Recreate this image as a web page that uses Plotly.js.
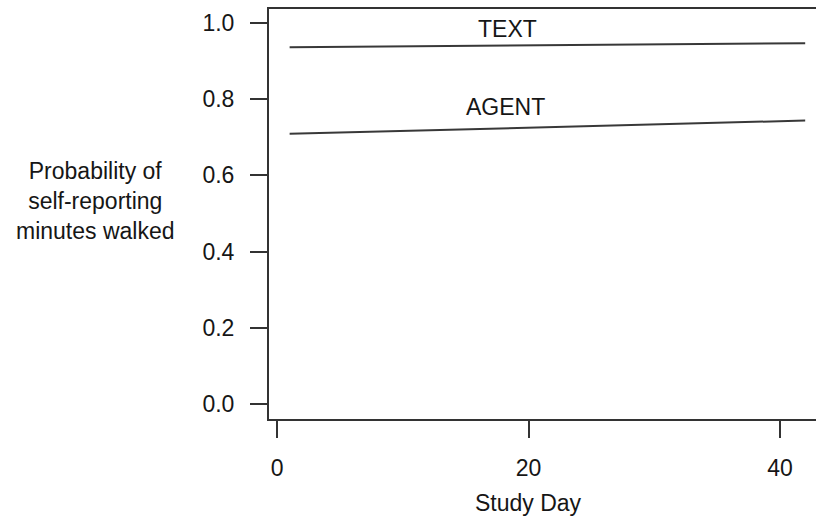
<!DOCTYPE html>
<html>
<head>
<meta charset="utf-8">
<script src="https://cdn.plot.ly/plotly-3.0.1.min.js"></script>
<style>html,body{margin:0;padding:0;background:#fff;}#chart{width:816px;height:525px;}</style>
</head>
<body>
<div id="chart"></div>
<script>
// Data
const days = [1, 42];
const textProb = [0.936, 0.947];
const agentProb = [0.709, 0.744];
const seriesNames = ["TEXT", "AGENT"];
const xTicks = [0, 20, 40];
const yTicks = [0.0, 0.2, 0.4, 0.6, 0.8, 1.0];
const yTitle = "Probability of<br>self-reporting<br>minutes walked";
const xTitle = "Study Day";

const font = "Liberation Sans, Arial, sans-serif";
const lineStyle = {color: "#383838", width: 2};

const traces = [
  {x: days, y: textProb, name: seriesNames[0], mode: "lines", line: lineStyle, hoverinfo: "skip"},
  {x: days, y: agentProb, name: seriesNames[1], mode: "lines", line: lineStyle, hoverinfo: "skip"}
];

const layout = {
  width: 816, height: 525,
  margin: {l: 269, r: 0, t: 9, b: 106},
  paper_bgcolor: "#fff", plot_bgcolor: "#fff",
  showlegend: false,
  font: {family: font, size: 23, color: "#161616"},
  xaxis: {
    range: [-0.64, 42.86], tickvals: xTicks, ticktext: xTicks.map(String),
    showgrid: false, zeroline: false,
    showline: true, linecolor: "#333", linewidth: 2, mirror: true,
    ticks: "outside", ticklen: 17, tickwidth: 2, tickcolor: "#333",
    ticklabelstandoff: 10
  },
  yaxis: {
    range: [-0.0394, 1.0367], tickvals: yTicks, ticktext: yTicks.map(v => v.toFixed(1)),
    showgrid: false, zeroline: false,
    showline: true, linecolor: "#333", linewidth: 2, mirror: false,
    ticks: "outside", ticklen: 17, tickwidth: 2, tickcolor: "#333",
    ticklabelstandoff: 11
  },
  annotations: [
    {text: seriesNames[0], x: 18.3, y: 0.984, xref: "x", yref: "y", showarrow: false, font: {size: 23}},
    {text: seriesNames[1], x: 18.2, y: 0.78, xref: "x", yref: "y", showarrow: false, font: {size: 23}},
    {text: yTitle, xref: "paper", yref: "paper", x: (95 - 269) / 547, y: (410 - (201 - 9)) / 410,
     xanchor: "center", yanchor: "middle", showarrow: false, align: "center", font: {size: 23}},
    {text: xTitle, xref: "x", yref: "paper", x: 20, y: (419 - 503) / 410,
     xanchor: "center", yanchor: "middle", showarrow: false, font: {size: 23}}
  ]
};

Plotly.newPlot("chart", traces, layout, {displayModeBar: false, staticPlot: true});
</script>
</body>
</html>
